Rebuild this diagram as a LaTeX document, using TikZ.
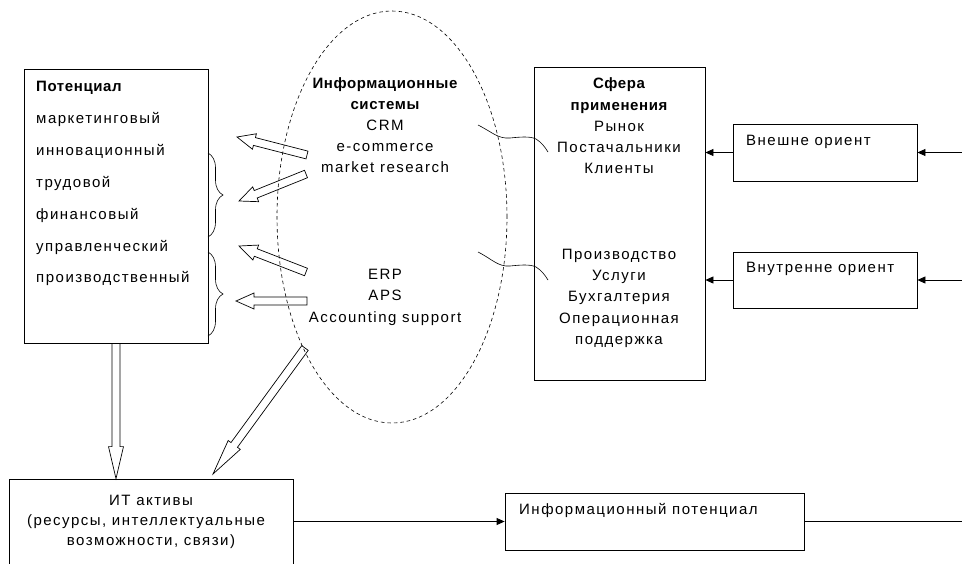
\documentclass[tikz,border=0pt]{standalone}
\usepackage{fontspec}
\setmainfont{Liberation Sans}[LetterSpace=10, BoldFeatures={LetterSpace=4}]
\usetikzlibrary{arrows.meta,calc,decorations.pathreplacing,shapes.geometric}
\newcommand\harrow[5]{%
  \path let \p1=(#1), \p2=(#2) in \pgfextra{%
    \pgfmathsetmacro\hA{atan2(\y2-\y1,\x2-\x1)}%
    \pgfmathsetmacro\hL{veclen(\x2-\x1,\y2-\y1)}%
    \xdef\hA{\hA}\xdef\hL{\hL}\xdef\hX{\x1}\xdef\hY{\y1}};
  \begin{scope}[shift={(\hX,\hY)}, rotate=\hA]
    \draw[hollow] (0pt,-#3) -- ({\hL pt-#5},-#3) -- ({\hL pt-#5},-#4) -- (\hL pt,0pt)
      -- ({\hL pt-#5},#4) -- ({\hL pt-#5},#3) -- (0pt,#3) -- cycle;
  \end{scope}}
\begin{document}
\begin{tikzpicture}[x=1pt,y=-1pt,
  font=\fontsize{15}{21}\selectfont,
  box/.style={draw, line width=0.8pt, inner sep=0pt, rectangle},
  ln/.style={inner sep=0pt, text height=10.5pt, text depth=3pt},
  lnl/.style={ln, anchor=west},
  conn/.style={line width=0.8pt, -{Triangle[length=8pt,width=7pt]}},
  hollow/.style={draw, line width=0.7pt, line join=miter},
  brc/.style={decorate, decoration={brace, amplitude=15pt}, line width=0.6pt},
  wavy/.style={line width=0.6pt},
  dashell/.style={draw, ellipse, dash pattern=on 3.5pt off 3pt, line width=0.6pt, inner sep=0pt}]
\fill[white] (0,0) rectangle (962,563);
\useasboundingbox (0,0) rectangle (962,563);
\clip (0,0) rectangle (962,563);

% ellipse
\node[dashell, minimum width=230pt, minimum height=412pt] (is) at (392,217) {};

% Potential box
\node[box, minimum width=184pt, minimum height=274pt] (pot) at (116,206) {};
\node[lnl, font=\fontsize{15}{21}\selectfont\bfseries] (p0) at (36,88) {Потенциал};
\node[lnl] (p1) at (36,120) {маркетинговый};
\node[lnl] (p2) at (36,152) {инновационный};
\node[lnl] (p3) at (36,184) {трудовой};
\node[lnl] (p4) at (36,216) {финансовый};
\node[lnl] (p5) at (36,248) {управленческий};
\node[lnl] (p6) at (36,279) {производственный};

% braces
\coordinate (b1s) at (208,153); \coordinate (b1e) at (208,237);
\coordinate (b2s) at (208,252); \coordinate (b2e) at (208,336);
\draw[brc] (b1s) -- (b1e);
\draw[brc] (b2s) -- (b2e);

% ellipse texts
\node[ln, font=\fontsize{15}{21}\selectfont\bfseries] (i1) at (385,85) {Информационные};
\node[ln, font=\fontsize{15}{21}\selectfont\bfseries] (i2) at (385,106) {системы};
\node[ln] (i3) at (385,127) {CRM};
\node[ln] (i4) at (385,148) {e-commerce};
\node[ln] (i5) at (385,169) {market research};
\node[ln] (i6) at (385,276) {ERP};
\node[ln] (i7) at (385,297) {APS};
\node[ln] (i8) at (385,319) {Accounting support};

% sphere box
\node[box, minimum width=171pt, minimum height=313pt] (sph) at (619.5,223.5) {};
\node[ln, font=\fontsize{15}{21}\selectfont\bfseries] (s1) at (619,85) {Сфера};
\node[ln, font=\fontsize{15}{21}\selectfont\bfseries] (s2) at (619,107) {применения};
\node[ln] (s3) at (619,128) {Рынок};
\node[ln] (s4) at (619,149) {Постачальники};
\node[ln] (s5) at (619,170) {Клиенты};
\node[ln] (s6) at (619,256) {Производство};
\node[ln] (s7) at (619,277) {Услуги};
\node[ln] (s8) at (619,298) {Бухгалтерия};
\node[ln] (s9) at (619,320) {Операционная};
\node[ln] (s10) at (619,341) {поддержка};

% orientation boxes
\node[box, minimum width=184pt, minimum height=57pt] (vn) at (825,152.5) {};
\node[lnl] (vnt) at (746,142) {Внешне ориент};
\node[box, minimum width=184pt, minimum height=56pt] (vt) at (825,280) {};
\node[lnl] (vtt) at (746,269) {Внутренне ориент};
\coordinate (rin1) at (962,152.5);
\coordinate (rin2) at (962,280);
\draw[conn] (vn.west) -- (sph.east |- vn.west);
\draw[conn] (vt.west) -- (sph.east |- vt.west);
\draw[conn] (rin1) -- (vn.east);
\draw[conn] (rin2) -- (vt.east);

% wavy connectors
\coordinate (w1a) at (478,125); \coordinate (w1b) at (548,152);
\coordinate (w2a) at (478,252); \coordinate (w2b) at (548,280);
\draw[wavy] (w1a) .. controls (492,132) and (498,139) .. (510,138)
  .. controls (520,137) and (530,136) .. (536,139)
  .. controls (541,142) and (545,147) .. (w1b);
\draw[wavy] (w2a) .. controls (492,259) and (498,267) .. (510,266)
  .. controls (520,265) and (530,264) .. (536,267)
  .. controls (541,270) and (545,275) .. (w2b);

% bottom boxes
\node[box, minimum width=284pt, minimum height=122pt] (it) at (151,540) {};
\node[ln] (t1) at (151,502) {ИТ активы};
\node[ln] (t2) at (146,522) {(ресурсы, интеллектуальные};
\node[ln] (t3) at (151,542) {возможности, связи)};
\node[box, minimum width=299pt, minimum height=57pt] (ip) at (654.5,521.5) {};
\node[lnl] (ipt) at (519,511) {Информационный потенциал};
\coordinate (rout) at (962,521.5);
\draw[conn] (it.east |- ip.west) -- (ip.west);
\draw[line width=0.8pt] (ip.east) -- (rout);

% hollow arrows
\coordinate (a1s) at (307,155); \coordinate (a1e) at (237,137);
\coordinate (a2s) at (306,174); \coordinate (a2e) at (239,201);
\coordinate (a3s) at (306,272); \coordinate (a3e) at (239,246);
\coordinate (a4s) at (307,301); \coordinate (a4e) at (236,301);
\coordinate (a6s) at (305,348); \coordinate (a6e) at (213,474);
\harrow{a1s}{a1e}{4pt}{8pt}{18pt}
\harrow{a2s}{a2e}{4pt}{8pt}{18pt}
\harrow{a3s}{a3e}{4pt}{8pt}{18pt}
\harrow{a4s}{a4e}{4pt}{8pt}{18pt}
\harrow{pot.south}{pot.south |- it.north}{4pt}{7.5pt}{32pt}
\harrow{a6s}{a6e}{4pt}{7.5pt}{36pt}
\end{tikzpicture}
\end{document}
